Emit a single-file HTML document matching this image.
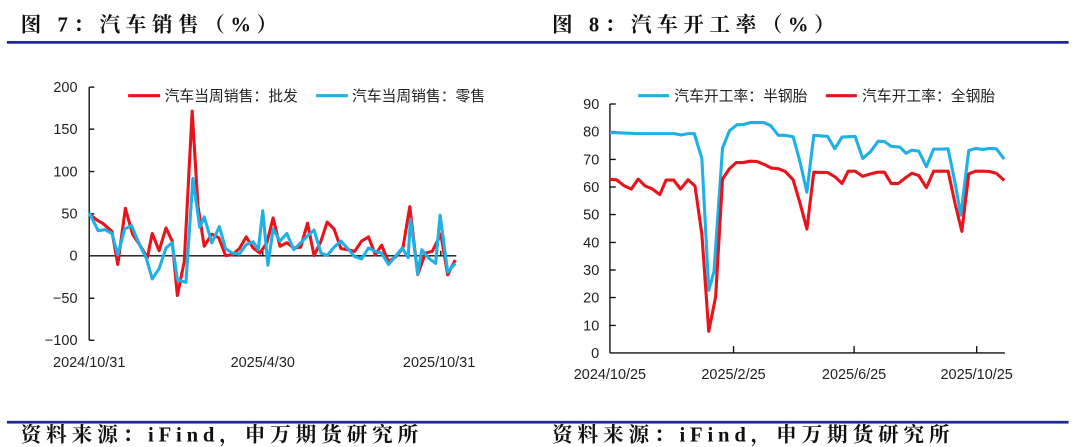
<!DOCTYPE html>
<html><head><meta charset="utf-8"><style>
html,body{margin:0;padding:0;background:#fff;width:1080px;height:447px;overflow:hidden}
svg{position:absolute;top:0}
.t{font-family:"Liberation Serif","Noto Serif CJK SC",serif;font-weight:700;font-size:60px;fill:#111}
.tt{letter-spacing:16px}
.ss{letter-spacing:14px}
.a{font-family:"Liberation Sans","Noto Sans CJK SC",sans-serif;font-size:42px;fill:#222}
.l{font-family:"Liberation Sans","Noto Sans CJK SC",sans-serif;font-size:43px;fill:#222}
.r{fill:none;stroke:#e8141c;stroke-width:9;stroke-linejoin:round}
.b{fill:none;stroke:#1fb1e6;stroke-width:9;stroke-linejoin:round}
</style></head><body>
<svg style="left:0" width="540" height="447" viewBox="0 0 1568 1298">
<text class="t tt" x="60" y="92">图 7：汽车销售（%）</text>
<rect x="20" y="119" width="1548" height="8" fill="#1f2a9a"/>
<rect x="20" y="1222" width="1548" height="8" fill="#1f2a9a"/>
<text class="t ss" x="60" y="1282">资料来源：iFind，申万期货研究所</text>
<g stroke="#111" stroke-width="4">
<line x1="259" y1="253" x2="259" y2="988"/>
<line x1="259" y1="253" x2="274" y2="253"/><line x1="259" y1="375" x2="274" y2="375"/><line x1="259" y1="498" x2="274" y2="498"/><line x1="259" y1="621" x2="274" y2="621"/><line x1="259" y1="866" x2="274" y2="866"/><line x1="259" y1="988" x2="274" y2="988"/>
<line x1="259" y1="743" x2="1325" y2="743"/>
<line x1="763" y1="743" x2="763" y2="728"/><line x1="1280" y1="743" x2="1280" y2="728"/>
</g>
<g class="a" text-anchor="end">
<text x="225" y="267">200</text><text x="225" y="389">150</text><text x="225" y="512">100</text><text x="225" y="635">50</text><text x="225" y="757">0</text><text x="225" y="880">−50</text><text x="225" y="1002">−100</text>
</g>
<g class="a" text-anchor="middle">
<text x="259" y="1065">2024/10/31</text><text x="763" y="1065">2025/4/30</text><text x="1275" y="1065">2025/10/31</text>
</g>
<line x1="372" y1="278" x2="465" y2="278" class="r"/><text class="l" x="478" y="293">汽车当周销售：批发</text>
<line x1="918" y1="278" x2="1010" y2="278" class="b"/><text class="l" x="1022" y="293">汽车当周销售：零售</text>
<polyline class="r" points="259,621 280,638 300,650 325,672 342,768 364,605 385,680 405,710 428,748 442,678 462,728 482,662 500,700 515,858 535,760 558,323 575,600 593,715 615,680 635,690 655,742 675,740 695,722 715,688 735,720 755,735 775,705 793,633 813,715 833,705 853,720 873,718 893,648 912,742 932,700 950,645 970,665 990,722 1010,725 1030,730 1050,700 1070,688 1090,740 1108,712 1128,760 1150,745 1170,720 1190,600 1213,797 1235,735 1255,730 1280,680 1300,798 1322,755"/>
<polyline class="b" points="259,618 285,670 305,667 325,678 342,740 362,665 382,655 405,710 425,750 442,810 462,780 482,720 500,705 515,812 540,820 560,518 580,660 593,630 615,705 637,658 655,722 675,735 695,738 715,710 735,702 750,725 763,612 778,770 793,665 813,700 833,678 853,725 873,705 893,685 912,668 932,735 950,742 970,718 990,700 1010,722 1030,745 1050,752 1070,720 1090,730 1108,735 1128,768 1148,745 1168,720 1185,748 1192,636 1213,795 1225,725 1245,750 1265,765 1278,625 1300,790 1322,765"/>
</svg>
<svg style="left:540px" width="540" height="447" viewBox="0 0 1568 1298">
<text class="t tt" x="35" y="92">图 8：汽车开工率（%）</text>
<rect x="0" y="119" width="1535" height="8" fill="#1f2a9a"/>
<rect x="0" y="1222" width="1535" height="8" fill="#1f2a9a"/>
<text class="t ss" x="35" y="1282">资料来源：iFind，申万期货研究所</text>
<g stroke="#111" stroke-width="4">
<line x1="203" y1="302" x2="203" y2="1025"/>
<line x1="203" y1="1025" x2="1350" y2="1025"/>
<line x1="562" y1="1025" x2="562" y2="1005"/><line x1="912" y1="1025" x2="912" y2="1005"/><line x1="1268" y1="1025" x2="1268" y2="1005"/>
<line x1="203" y1="302" x2="220" y2="302"/><line x1="203" y1="382" x2="220" y2="382"/><line x1="203" y1="463" x2="220" y2="463"/><line x1="203" y1="543" x2="220" y2="543"/><line x1="203" y1="623" x2="220" y2="623"/><line x1="203" y1="704" x2="220" y2="704"/><line x1="203" y1="784" x2="220" y2="784"/><line x1="203" y1="864" x2="220" y2="864"/><line x1="203" y1="945" x2="220" y2="945"/>
</g>
<g class="a" text-anchor="end">
<text x="172" y="316">90</text><text x="172" y="396">80</text><text x="172" y="477">70</text><text x="172" y="557">60</text><text x="172" y="637">50</text><text x="172" y="718">40</text><text x="172" y="798">30</text><text x="172" y="878">20</text><text x="172" y="959">10</text><text x="172" y="1039">0</text>
</g>
<g class="a" text-anchor="middle">
<text x="203" y="1100">2024/10/25</text><text x="562" y="1100">2025/2/25</text><text x="912" y="1100">2025/6/25</text><text x="1268" y="1100">2025/10/25</text>
</g>
<line x1="285" y1="278" x2="375" y2="278" class="b"/><text class="l" x="390" y="293">汽车开工率：半钢胎</text>
<line x1="830" y1="278" x2="920" y2="278" class="r"/><text class="l" x="935" y="293">汽车开工率：全钢胎</text>
<polyline class="b" points="203,385 240,386 280,388 320,388 360,388 390,388 410,392 430,388 448,388 470,460 490,843 505,790 530,430 550,380 572,362 590,362 610,356 650,356 670,365 692,393 712,393 735,397 755,470 775,558 795,393 835,396 856,432 877,398 915,396 937,460 960,440 982,410 1000,411 1020,425 1045,427 1063,445 1080,436 1100,439 1122,484 1143,433 1165,433 1185,432 1205,530 1222,625 1245,437 1265,431 1285,434 1305,431 1325,432 1348,462"/>
<polyline class="r" points="203,521 222,522 245,540 265,549 285,520 305,540 325,548 348,565 366,523 388,523 408,549 430,522 450,540 470,680 490,962 510,862 530,520 550,490 570,472 590,472 610,468 630,469 650,477 672,488 692,490 712,498 735,522 755,590 775,665 795,500 835,501 856,513 877,533 895,497 915,497 937,512 960,505 980,500 1000,500 1020,533 1040,533 1063,515 1080,503 1100,510 1122,545 1143,497 1165,497 1185,497 1205,590 1225,672 1245,505 1265,497 1285,497 1305,498 1325,503 1348,524"/>
</svg>
</body></html>
